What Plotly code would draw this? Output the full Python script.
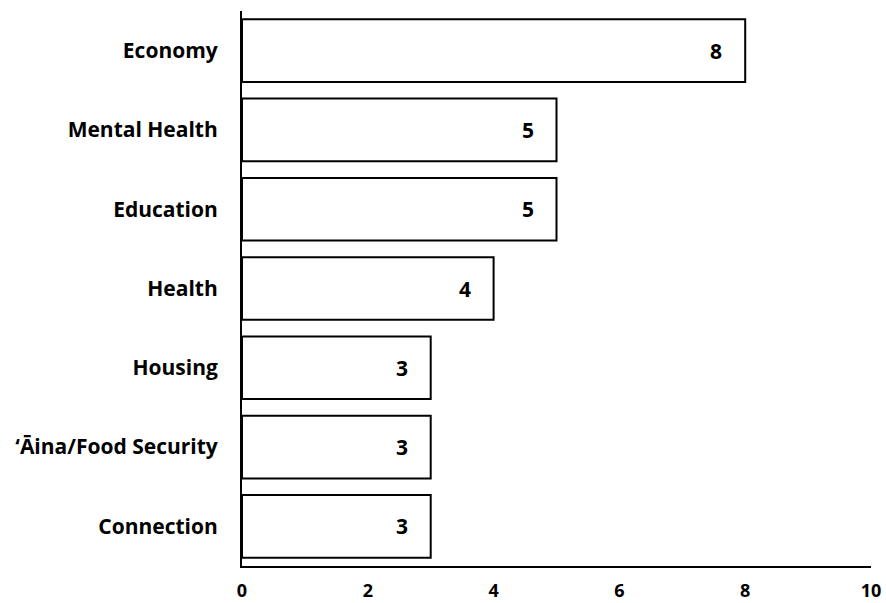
import plotly.graph_objects as go

categories = ["Economy", "Mental Health", "Education", "Health", "Housing",
              "\u2018\u0100ina/Food Security", "Connection"]
values = [8, 5, 5, 4, 3, 3, 3]

FONT = "Open Sans"

fig = go.Figure()
fig.add_trace(go.Bar(
    x=values, y=categories, orientation="h",
    marker=dict(color="white", line=dict(color="black", width=2)),
    hoverinfo="skip",
))

for c, v in zip(categories, values):
    fig.add_annotation(x=v, y=c, text=f"<b>{v}</b>", showarrow=False,
                       xanchor="right", xshift=-21,
                       font=dict(family=FONT, size=21, color="black"))

fig.update_layout(
    width=886, height=603,
    margin=dict(l=242, r=15, t=11, b=37),
    plot_bgcolor="white", paper_bgcolor="white",
    bargap=0.21,
    showlegend=False,
    font=dict(family=FONT, color="black"),
)
fig.update_xaxes(
    range=[0, 10], dtick=2, tick0=0, automargin=False,
    showline=True, linecolor="black", linewidth=2,
    showgrid=False, zeroline=False, ticks="", ticklabelstandoff=7,
    ticklabeloverflow="allow",
    tickfont=dict(family=FONT, size=18, color="black", weight="bold"),
)
fig.update_yaxes(
    autorange="reversed", automargin=False,
    showline=True, linecolor="black", linewidth=2,
    showgrid=False, zeroline=False, ticks="", ticklabelstandoff=18,
    tickfont=dict(family=FONT, size=21, color="black", weight="bold"),
)

fig.write_html("out.html",
               config={"displayModeBar": False},
               post_script="document.body.style.margin='0';"
                           "document.body.style.overflow='hidden';")
